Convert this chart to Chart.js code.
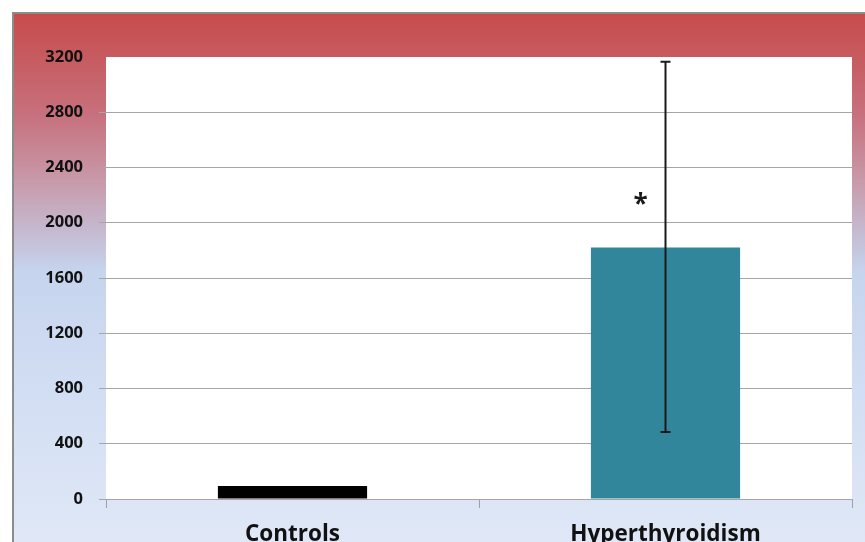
<!DOCTYPE html>
<html>
<head>
<meta charset="utf-8">
<script src="https://cdn.jsdelivr.net/npm/chart.js@4"></script>
<style>
  html, body { margin: 0; padding: 0; background: #fff; }
  #wrap { width: 865px; height: 542px; }
</style>
</head>
<body>
<div id="wrap"><canvas id="chart" width="865" height="542"></canvas></div>
<script>
// data
var categories = ['Controls', 'Hyperthyroidism'];
var values = [95, 1820];
var errLow = [null, 485];
var errHigh = [null, 3165];
var starValue = [null, 2150];
var yTicks = [0, 400, 800, 1200, 1600, 2000, 2400, 2800, 3200];
var barColors = ['#000000', '#31869b'];

// background frame + white plot area
var backgroundPlugin = {
    id: 'bg',
    beforeDraw: function (chart) {
        var c = chart.ctx;
        var a = chart.chartArea;
        c.save();
        c.fillStyle = '#ffffff';
        c.fillRect(0, 0, chart.width, chart.height);
        var g = c.createLinearGradient(0, 12, 0, chart.height);
        g.addColorStop(0, '#c84b4c');
        g.addColorStop(0.08, '#c65a5e');
        g.addColorStop(0.20, '#c7727f');
        g.addColorStop(0.32, '#c89aaa');
        g.addColorStop(0.42, '#c5bcd3');
        g.addColorStop(0.49, '#c6d4ee');
        g.addColorStop(0.72, '#d2def3');
        g.addColorStop(1, '#e0e8f7');
        c.fillStyle = g;
        c.fillRect(12, 12, chart.width - 12, chart.height - 12);
        c.strokeStyle = '#8c8c8c';
        c.lineWidth = 2;
        c.beginPath();
        c.moveTo(13, chart.height);
        c.lineTo(13, 13);
        c.lineTo(chart.width, 13);
        c.stroke();
        c.fillStyle = '#ffffff';
        c.fillRect(a.left, a.top, a.right - a.left, a.bottom - a.top);
        c.restore();
    }
};

// error bar and significance star
var errorPlugin = {
    id: 'errs',
    afterDatasetsDraw: function (chart) {
        var c = chart.ctx;
        var xs = chart.scales.x, ys = chart.scales.y;
        c.save();
        c.strokeStyle = '#1a1a1a';
        c.lineWidth = 2;
        for (var i = 0; i < categories.length; i++) {
            if (errLow[i] == null) continue;
            var x = xs.getPixelForValue(i);
            var y1 = ys.getPixelForValue(errLow[i]);
            var y2 = ys.getPixelForValue(errHigh[i]);
            c.beginPath();
            c.moveTo(x, y1); c.lineTo(x, y2);
            c.moveTo(x - 5, y1); c.lineTo(x + 5, y1);
            c.moveTo(x - 5, y2); c.lineTo(x + 5, y2);
            c.stroke();
        }
        c.fillStyle = '#1a1a1a';
        c.font = 'bold 26px "Open Sans"';
        c.textAlign = 'center';
        c.textBaseline = 'middle';
        for (var j = 0; j < categories.length; j++) {
            if (starValue[j] == null) continue;
            c.fillText('*', xs.getPixelForValue(j) - 25, ys.getPixelForValue(starValue[j]) + 4);
        }
        c.restore();
    }
};

var ctx = document.getElementById('chart').getContext('2d');
var chart = new Chart(ctx, {
    type: 'bar',
    data: {
        labels: categories,
        datasets: [{
            data: values,
            backgroundColor: barColors,
            borderWidth: 0,
            barPercentage: 0.8,
            categoryPercentage: 0.5
        }]
    },
    options: {
        responsive: false,
        animation: false,
        layout: { padding: { left: 0, top: 57, right: 13, bottom: 0 } },
        plugins: { legend: { display: false }, tooltip: { enabled: false } },
        scales: {
            x: {
                grid: { offset: true, drawOnChartArea: false, drawTicks: true, tickLength: 9, color: '#a0a0a0' },
                border: { display: true, color: '#a6a6a6', width: 1 },
                ticks: { color: '#111', padding: 13, font: { family: 'Open Sans', weight: 'bold', size: 22.5 } },
                afterFit: function (s) { s.height = 43; }
            },
            y: {
                min: 0,
                max: 3200,
                afterBuildTicks: function (s) { s.ticks = yTicks.map(function (v) { return { value: v }; }); },
                grid: {
                    color: function (c) { return c.tick && c.tick.value === 3200 ? 'rgba(0,0,0,0)' : '#a6a6a6'; },
                    tickLength: 7
                },
                border: { display: false },
                ticks: {
                    color: '#111', padding: 16,
                    font: { family: 'Open Sans', weight: 'bold', size: 16.5 },
                    callback: function (v) { return String(v); }
                },
                afterFit: function (s) { s.width = 106; }
            }
        }
    },
    plugins: [backgroundPlugin, errorPlugin]
});
</script>
</body>
</html>
